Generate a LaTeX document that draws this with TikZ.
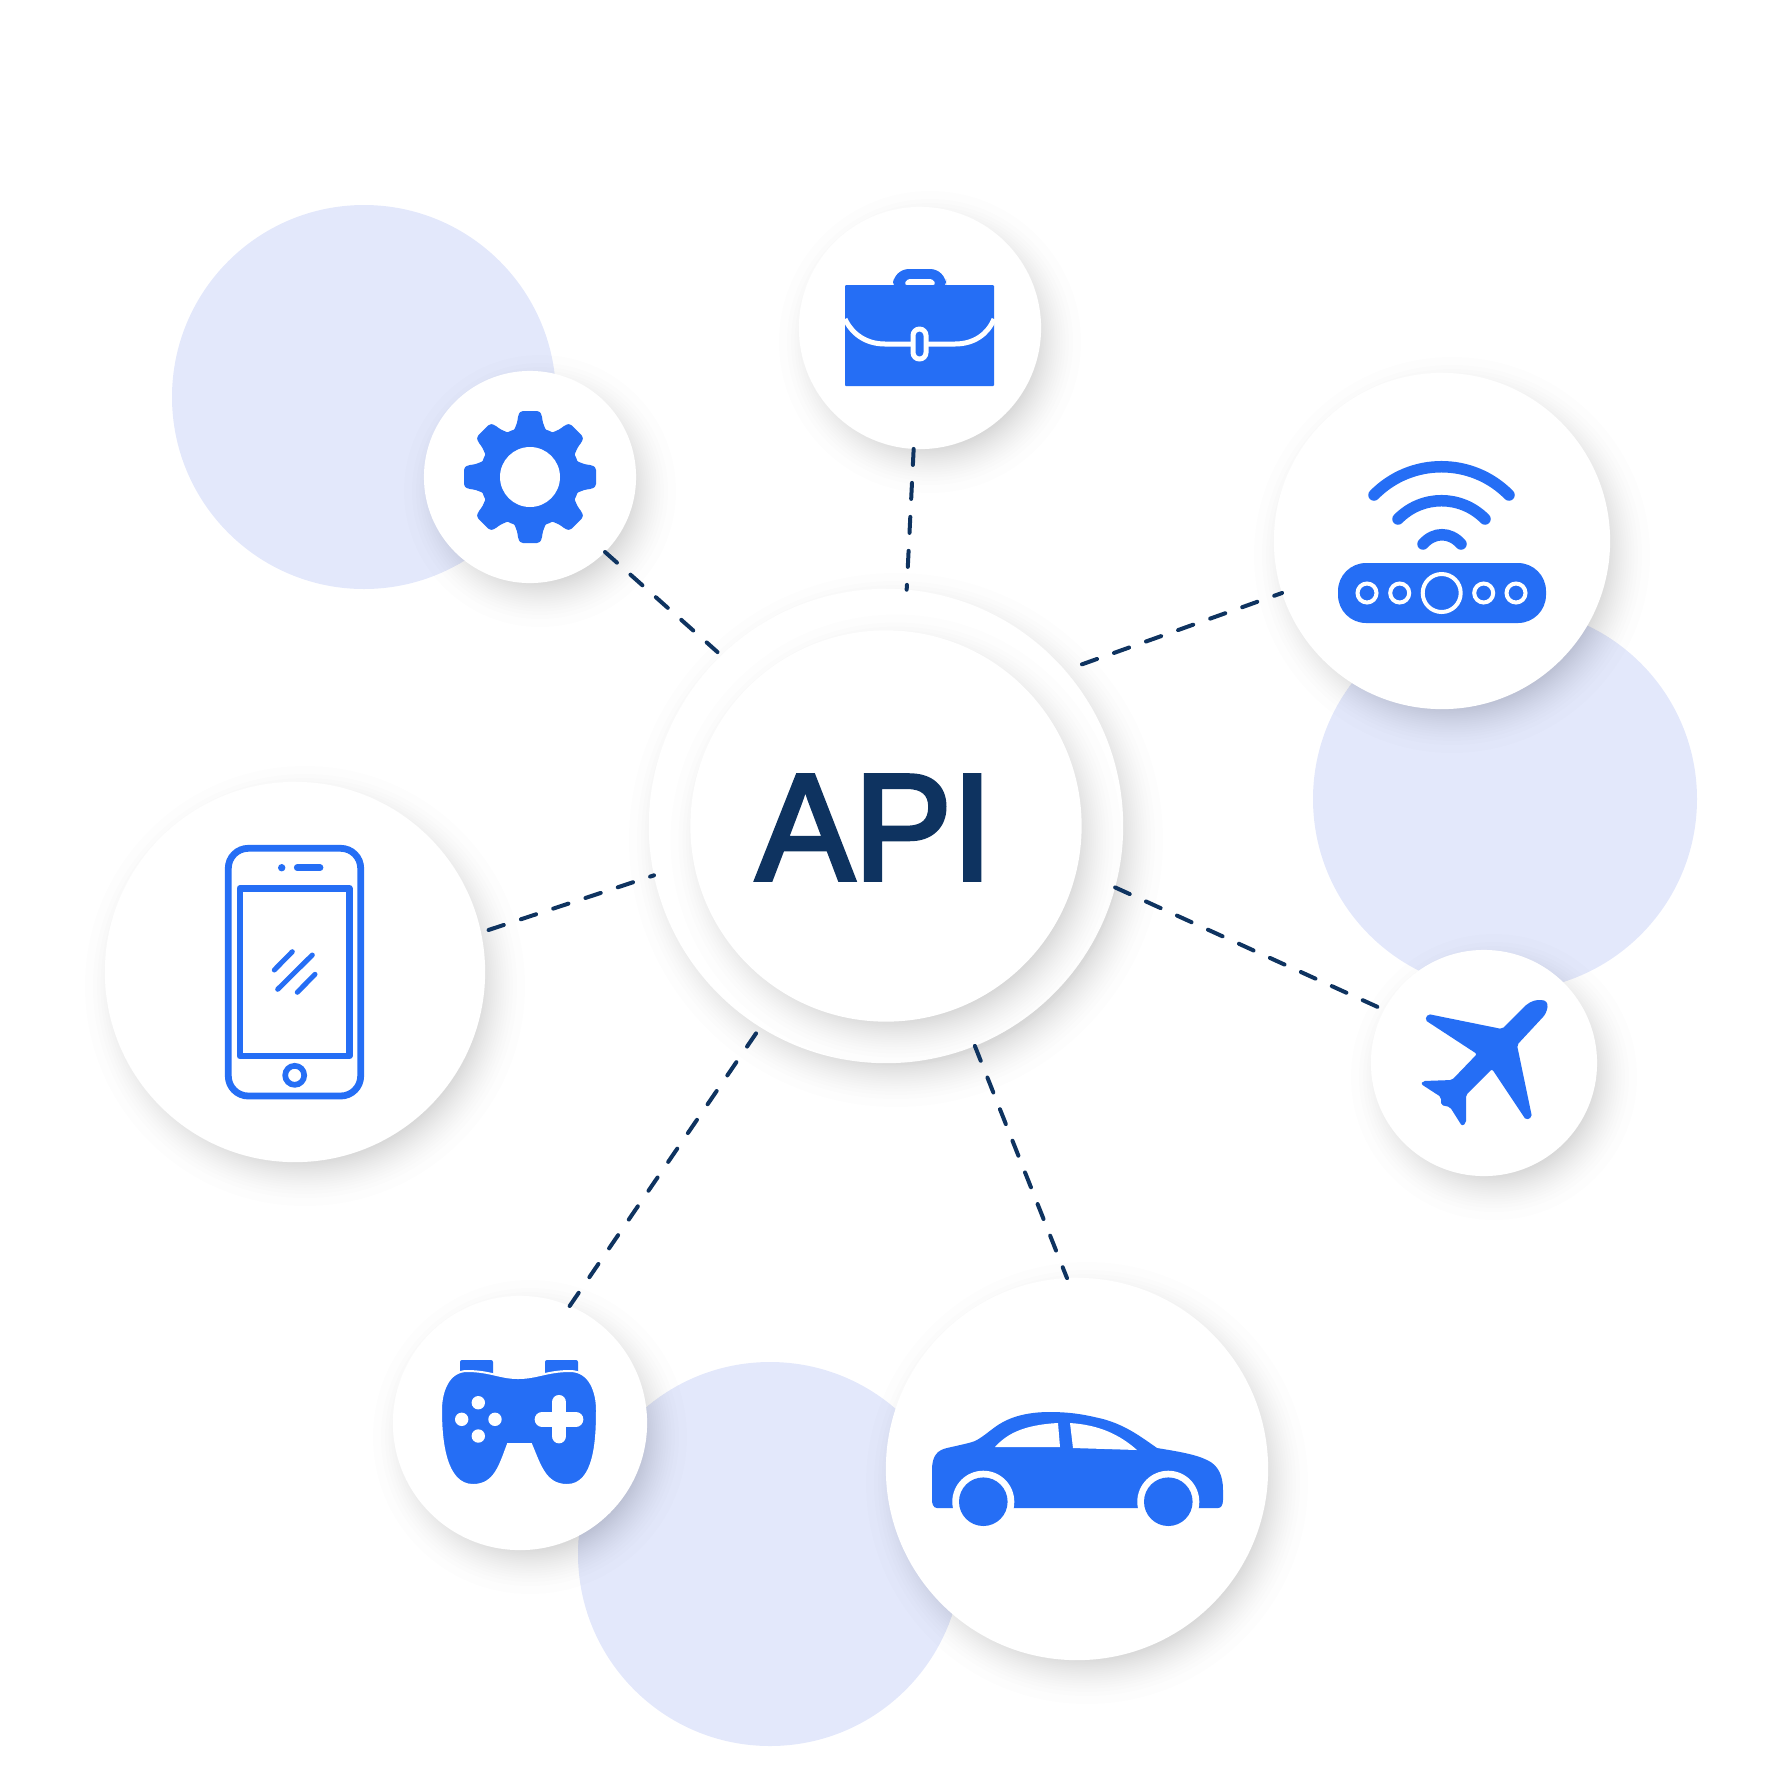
\documentclass[tikz,border=0pt]{standalone}
\usepackage{fontspec}
\usepackage{xcolor}
\usetikzlibrary{positioning}
\newfontfamily\apifont[FakeBold=3, FakeStretch=0.97]{Liberation Sans}
\definecolor{iconblue}{HTML}{256EF5}
\definecolor{paleblue}{HTML}{E3E8FB}
\definecolor{navy}{HTML}{0E3360}
\tikzset{
	spot/.style={circle, fill=white, inner sep=0pt, outer sep=0pt},
	blob/.style={fill=paleblue},
	haze/.style={fill=black, opacity=0.007},
	link/.style={draw=navy, line width=0.04cm, line cap=round, dash pattern=on 0.16cm off 0.18cm},
	icon/.style={fill=iconblue},
	iconline/.style={draw=iconblue, line width=0.068cm, line cap=round},
	wave/.style={draw=iconblue, line width=0.115cm, line cap=round},
	ring/.style={draw=white, line width=0.04cm},
	gap/.style={draw=white, line width=0.05cm},
	apitext/.style={text=navy, inner sep=0pt, font=\apifont\fontsize{43}{43}\selectfont}
}
\begin{document}
\begin{tikzpicture}[x=0.01cm, y=-0.01cm]
	\useasboundingbox (0,0) rectangle (1772,1772);
	
	\fill[blob] (364,397) circle (192);
	\fill[blob] (1505,799) circle (192);
	\fill[blob] (770,1554) circle (192);
	
	\foreach \cx/\cy/\rad/\name in {886/826/237/api, 886/826/195.5/core, 530/477/106/gear, 920/328/121/bag, 1442/541/168/router, 1484/1063/113/plane, 1077/1469/191/car, 520/1423/127/game, 295/972/190/phone} {
		\foreach \g in {0,...,23}
			\fill[haze] (\cx+10,\cy+14) circle ({\rad+30-52*(\g/23)^0.6});
		\node[spot, minimum size=\rad*0.02cm] (\name) at (\cx,\cy) {};
	}
	
	\node[apitext] (apilabel) at (874.5,827.5) {API};
	
	\draw[link, shorten >=0.05cm] (gear.-45.9) -- (api.134.6);
	\draw[link] (bag.267.4) -- (api.85.1);
	\draw[link, dash phase=0.16cm] (api.41) -- (router.198.6);
	\draw[link] (api.-15.6) -- (plane.152.4);
	\draw[link] (api.-68) -- (car.93);
	\draw[link, dash pattern=on 0.16cm off 0.189cm] (game.67.5) -- (api.238.2);
	\draw[link, shorten <=0.08cm] (phone.12.2) -- (api.192.6);
	
	% gear
	\fill[icon] (530,477) circle (50);
	\foreach \a in {0,45,...,315}
		\fill[icon, shift={(530,477)}, rotate=\a] (-24,40) .. controls (-15,45) and (-13,52) .. (-12,60) .. controls (-11,65) and (-9,66) .. (-7,66) -- (7,66) .. controls (9,66) and (11,65) .. (12,60) .. controls (13,52) and (15,45) .. (24,40) -- cycle;
	\fill[white] (530,477) circle (30);
	
	% bag
	\fill[icon, rounded corners=0.16cm] (893,295) -- (893,269) -- (946,269) -- (946,295) -- cycle;
	\fill[white, rounded corners=0.03cm] (904,285) -- (907,279) -- (933,279) -- (936,285) -- cycle;
	\fill[icon, rounded corners=0.01cm] (845,285) rectangle (994,386);
	\draw[gap] (845,319) .. controls (852,334) and (866,344) .. (885,344) -- (955,344) .. controls (974,344) and (988,334) .. (994,319);
	\draw[gap, fill=iconblue, rounded corners=0.065cm] (913,329) rectangle (926,359);
	
	% router
	\draw[wave] (1374,495) .. controls (1411,457.3) and (1472,457.3) .. (1509,495);
	\draw[wave] (1398,519) .. controls (1422,494.6) and (1461,494.6) .. (1485,519);
	\draw[wave] (1423,544) .. controls (1434,531.6) and (1450,531.6) .. (1461,544);
	\fill[icon, rounded corners=0.28cm] (1338,563) rectangle (1546,623);
	\foreach \x in {1367,1399.7,1483.7,1516}
		\draw[ring] (\x,593) circle (9.5);
	\draw[ring] (1441.7,593) circle (19);
	
	% plane
	\fill[icon] (1525,1006) .. controls (1531,1001) and (1537,999.5) .. (1541,1000) .. controls (1546,1000) and (1548,1003) .. (1547.5,1007) .. controls (1547,1011) and (1545,1015) .. (1543,1017) [rounded corners=0.02cm] -- (1517,1045) -- (1532,1117) -- (1526,1120) -- (1492,1069) -- (1466,1095) -- (1466,1123) -- (1462,1126) -- (1450,1107) -- (1441,1105) -- (1441,1097) -- (1421,1084) -- (1423,1081) -- (1452,1080) -- (1477,1054) -- (1425,1020) -- (1428,1014) -- (1502,1029) -- cycle;
	
	% car
	\fill[icon] (937,1508) .. controls (933,1508) and (932,1503) .. (932,1500) -- (932,1470) .. controls (932,1455) and (938,1450) .. (947,1448) .. controls (960,1445) and (970,1443) .. (975,1441) .. controls (985,1436) and (992,1428) .. (1003,1422) .. controls (1018,1414) and (1035,1412) .. (1050,1412) .. controls (1075,1412) and (1090,1416) .. (1103,1419) .. controls (1125,1425) and (1140,1436) .. (1157,1448) .. controls (1175,1451) and (1195,1454) .. (1207,1460) .. controls (1218,1465) and (1223,1475) .. (1223,1490) -- (1223,1500) .. controls (1223,1505) and (1221,1508) .. (1218,1508) -- cycle;
	\fill[white] (995,1447) .. controls (1005,1436) and (1020,1425) .. (1058,1423) -- (1060,1447) -- cycle;
	\fill[white] (1070,1423) .. controls (1100,1425) and (1120,1435) .. (1137,1450) -- (1073,1448) -- cycle;
	\foreach \x in {983.3,1168.3} {
		\fill[white] (\x,1501.7) circle (31);
		\fill[icon] (\x,1501.7) circle (24.3);
	}
	
	% game pad
	\fill[icon, rounded corners=0.02cm] (460,1360) rectangle (493,1376);
	\fill[icon, rounded corners=0.02cm] (545,1360) rectangle (578,1376);
	\draw[gap, line width=0.02cm, fill=iconblue] (467,1371) .. controls (490,1371) and (500,1378) .. (518,1378) .. controls (537,1378) and (547,1371) .. (570,1371) .. controls (590,1371) and (597,1392) .. (597,1410) .. controls (597,1440) and (595,1485) .. (567,1485) .. controls (545,1485) and (540,1465) .. (531,1444) -- (508,1444) .. controls (500,1465) and (495,1485) .. (473,1485) .. controls (445,1485) and (441,1440) .. (441,1410) .. controls (441,1392) and (448,1371) .. (467,1371) -- cycle;
	\foreach \x/\y in {478.3/1402.7, 461.7/1419.3, 495/1419.3, 478.3/1436}
		\fill[white] (\x,\y) circle (6.7);
	\draw[white, line width=0.147cm, line cap=round] (542,1419.3) -- (576,1419.3);
	\draw[white, line width=0.147cm, line cap=round] (559,1402.3) -- (559,1436);
	
	% phone
	\draw[iconline, rounded corners=0.2cm] (228.3,848.3) rectangle (360.7,1096);
	\draw[iconline, line join=round] (240,888.3) rectangle (349.3,1056);
	\draw[iconline] (297.3,867.7) -- (320,867.7);
	\fill[icon] (281.7,867.7) circle (3.7);
	\draw[iconline, line width=0.057cm] (294.7,1075.3) circle (9.5);
	\draw[iconline, line width=0.05cm] (274.3,970) -- (292.3,951.7);
	\draw[iconline, line width=0.05cm] (277.7,989.3) -- (312.3,955);
	\draw[iconline, line width=0.05cm] (297.3,992.3) -- (315,974.3);
\end{tikzpicture}
\end{document}
